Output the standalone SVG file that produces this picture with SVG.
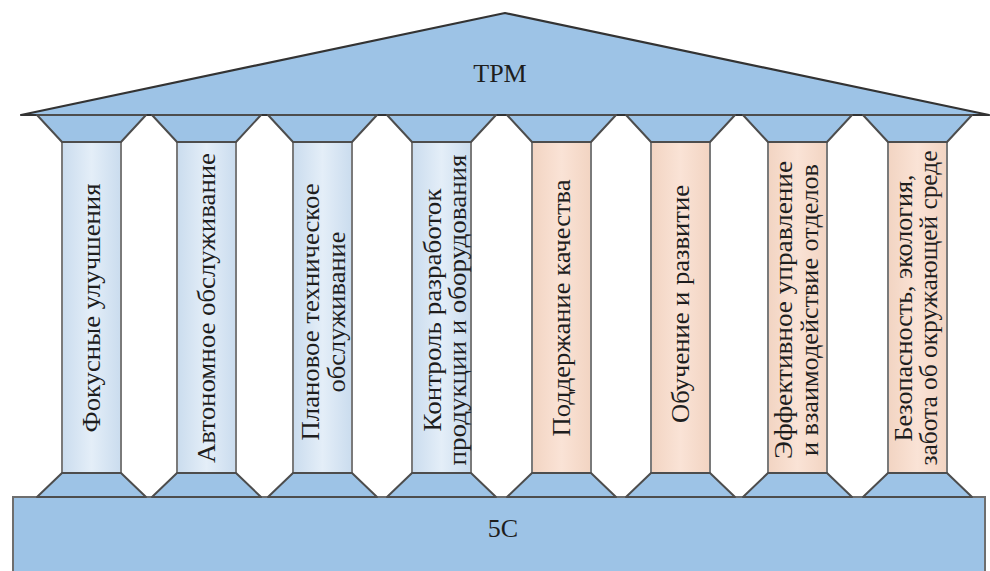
<svg xmlns="http://www.w3.org/2000/svg" width="990" height="571" viewBox="0 0 990 571">
  <style>
    .stone { fill: #9dc3e6; stroke: #4d4d4d; stroke-width: 2; stroke-linejoin: round; }
    .roof { fill: #9dc3e6; stroke: #333333; stroke-width: 2.2; stroke-linejoin: round; }
    .shaft-blue { fill: url(#gBlue); stroke: #7a7a7a; stroke-width: 2; }
    .shaft-pink { fill: url(#gPink); stroke: #7a7a7a; stroke-width: 2; }
    .lbl { font-family: "Liberation Serif", "Times New Roman", serif; font-size: 26px; fill: #1e1e1e; }
    .pl { font-family: "Liberation Serif", "Times New Roman", serif; font-size: 26px; fill: #1e1e1e; text-anchor: middle; }
  </style>
  <defs>
    <linearGradient id="gBlue" x1="0" y1="0" x2="1" y2="0">
      <stop offset="0" stop-color="#cadcee"/>
      <stop offset="0.5" stop-color="#e4eef8"/>
      <stop offset="1" stop-color="#cadcee"/>
    </linearGradient>
    <linearGradient id="gPink" x1="0" y1="0" x2="1" y2="0">
      <stop offset="0" stop-color="#f2d4c2"/>
      <stop offset="0.5" stop-color="#fae3d6"/>
      <stop offset="1" stop-color="#f2d4c2"/>
    </linearGradient>
    <!-- capital (top) and plinth (bottom) of a column, shaft left edge at x=0 -->
    <polygon id="capital" points="-25,115 84,115 59,142 0,142"/>
    <polygon id="plinth" points="0,473 59,473 84,497 -25,497"/>
  </defs>

  <rect width="990" height="571" fill="#ffffff"/>

  <!-- foundation -->
  <g id="foundation">
    <rect x="13" y="497" width="972" height="80" fill="#9dc3e6" stroke="#6e6e6e" stroke-width="2"/>
    <text class="lbl" x="503" y="537" text-anchor="middle">5C</text>
  </g>

  <!-- roof -->
  <g id="roof">
    <polygon class="roof" points="21,115 505,13 989,115"/>
    <text class="lbl" x="500" y="82" text-anchor="middle">TPM</text>
  </g>

  <!-- columns -->
  <g id="pillar-1" transform="translate(62,0)">
    <rect class="shaft-blue" x="0" y="142" width="59" height="331"/>
    <use href="#capital" class="stone"/>
    <use href="#plinth" class="stone"/>
    <g transform="translate(38,308) rotate(-90)">
      <text class="pl" x="0" y="0" textLength="249" lengthAdjust="spacingAndGlyphs">Фокусные улучшения</text>
    </g>
  </g>

  <g id="pillar-2" transform="translate(177,0)">
    <rect class="shaft-blue" x="0" y="142" width="59" height="331"/>
    <use href="#capital" class="stone"/>
    <use href="#plinth" class="stone"/>
    <g transform="translate(38,308) rotate(-90)">
      <text class="pl" x="0" y="0" textLength="310" lengthAdjust="spacingAndGlyphs">Автономное обслуживание</text>
    </g>
  </g>

  <g id="pillar-3" transform="translate(293,0)">
    <rect class="shaft-blue" x="0" y="142" width="59" height="331"/>
    <use href="#capital" class="stone"/>
    <use href="#plinth" class="stone"/>
    <g transform="translate(26,312) rotate(-90)">
      <text class="pl" x="0" y="0" textLength="257" lengthAdjust="spacingAndGlyphs">Плановое техническое</text>
      <text class="pl" x="0" y="26" textLength="161" lengthAdjust="spacingAndGlyphs">обслуживание</text>
    </g>
  </g>

  <g id="pillar-4" transform="translate(412,0)">
    <rect class="shaft-blue" x="0" y="142" width="59" height="331"/>
    <use href="#capital" class="stone"/>
    <use href="#plinth" class="stone"/>
    <g transform="translate(29,310) rotate(-90)">
      <text class="pl" x="0" y="0" textLength="243" lengthAdjust="spacingAndGlyphs">Контроль разработок</text>
      <text class="pl" x="0" y="25" textLength="311" lengthAdjust="spacingAndGlyphs">продукции и оборудования</text>
    </g>
  </g>

  <g id="pillar-5" transform="translate(532,0)">
    <rect class="shaft-pink" x="0" y="142" width="59" height="331"/>
    <use href="#capital" class="stone"/>
    <use href="#plinth" class="stone"/>
    <g transform="translate(38,308) rotate(-90)">
      <text class="pl" x="0" y="0" textLength="257" lengthAdjust="spacingAndGlyphs">Поддержание качества</text>
    </g>
  </g>

  <g id="pillar-6" transform="translate(651,0)">
    <rect class="shaft-pink" x="0" y="142" width="59" height="331"/>
    <use href="#capital" class="stone"/>
    <use href="#plinth" class="stone"/>
    <g transform="translate(38,304) rotate(-90)">
      <text class="pl" x="0" y="0" textLength="238" lengthAdjust="spacingAndGlyphs">Обучение и развитие</text>
    </g>
  </g>

  <g id="pillar-7" transform="translate(768,0)">
    <rect class="shaft-pink" x="0" y="142" width="59" height="331"/>
    <use href="#capital" class="stone"/>
    <use href="#plinth" class="stone"/>
    <g transform="translate(24,310) rotate(-90)">
      <text class="pl" x="0" y="0" textLength="298" lengthAdjust="spacingAndGlyphs">Эффективное управление</text>
      <text class="pl" x="0" y="26" textLength="292" lengthAdjust="spacingAndGlyphs">и взаимодействие отделов</text>
    </g>
  </g>

  <g id="pillar-8" transform="translate(888,0)">
    <rect class="shaft-pink" x="0" y="142" width="59" height="331"/>
    <use href="#capital" class="stone"/>
    <use href="#plinth" class="stone"/>
    <g transform="translate(24,308) rotate(-90)">
      <text class="pl" x="0" y="0" textLength="267" lengthAdjust="spacingAndGlyphs">Безопасность, экология,</text>
      <text class="pl" x="0" y="25" textLength="315" lengthAdjust="spacingAndGlyphs">забота об окружающей среде</text>
    </g>
  </g>
</svg>
